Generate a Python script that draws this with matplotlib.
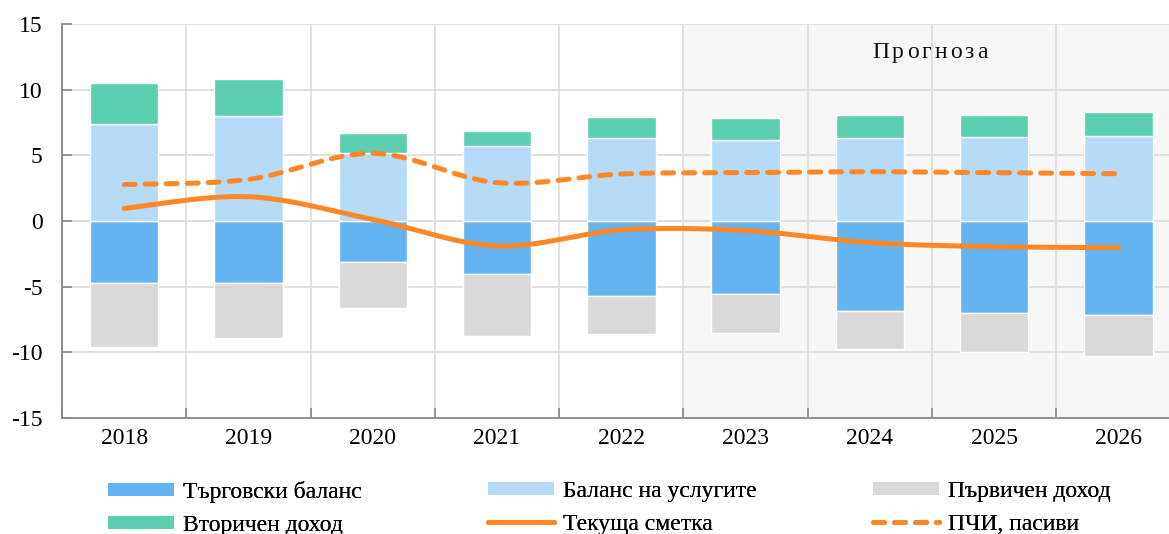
import numpy as np
import matplotlib
matplotlib.use("Agg")
import matplotlib.pyplot as plt
from matplotlib.patches import Patch
from matplotlib.lines import Line2D
from matplotlib.transforms import offset_copy

plt.rcParams["font.family"] = ["Liberation Serif", "DejaVu Serif"]

years = ["2018", "2019", "2020", "2021", "2022", "2023", "2024", "2025", "2026"]
trade_balance = [-4.74, -4.69, -3.12, -4.06, -5.73, -5.58, -6.87, -7.00, -7.13]
services_balance = [7.36, 7.97, 5.15, 5.73, 6.29, 6.16, 6.29, 6.37, 6.49]
primary_income = [-4.82, -4.24, -3.48, -4.67, -2.87, -2.97, -2.89, -3.00, -3.14]
secondary_income = [3.16, 2.83, 1.52, 1.14, 1.62, 1.70, 1.80, 1.70, 1.78]
current_account = [0.96, 1.85, 0.12, -1.90, -0.68, -0.73, -1.65, -1.95, -2.03]
fdi_liabilities = [2.77, 3.17, 5.15, 2.92, 3.58, 3.68, 3.75, 3.68, 3.60]
forecast_start = "2023"
forecast_label = "Прогноза"

labels = ["Търговски баланс", "Баланс на услугите", "Първичен доход",
          "Вторичен доход", "Текуща сметка", "ПЧИ, пасиви"]

c_trade = "#63b4f0"
c_serv = "#b5dbf8"
c_prim = "#d9d9d9"
c_sec = "#5ccfb0"
c_line = "#ff8726"
c_grid = "#dedede"


def smooth(xs, ys, n=40):
    """Cubic Bezier smoothing through the points (Catmull-Rom style)."""
    p = np.column_stack([xs, ys]).astype(float)
    ext = np.vstack([p[0], p, p[-1]])
    out = []
    t = np.linspace(0, 1, n)[:, None]
    for i in range(len(p) - 1):
        p0, p1, p2, p3 = ext[i], ext[i + 1], ext[i + 2], ext[i + 3]
        c1 = p1 + (p2 - p0) / 6.0
        c2 = p2 - (p3 - p1) / 6.0
        seg = ((1 - t) ** 3) * p1 + 3 * ((1 - t) ** 2) * t * c1 \
            + 3 * (1 - t) * t ** 2 * c2 + t ** 3 * p2
        out.append(seg if i == 0 else seg[1:])
    out = np.vstack(out)
    return out[:, 0], out[:, 1]


fig = plt.figure(figsize=(11.69, 5.34), dpi=100)
ax = fig.add_axes([62 / 1169, 116 / 534, 1 - 62 / 1169 + 0.01, 394 / 534])

x = np.arange(len(years))
fs = years.index(forecast_start)
ax.axvspan(fs - 0.5, len(years) + 1, color="#f7f7f7", zorder=0, lw=0)

w = 0.55
bar_kw = dict(width=w, edgecolor="white", linewidth=1.0, zorder=2)
ax.bar(x, trade_balance, color=c_trade, **bar_kw)
ax.bar(x, primary_income, bottom=trade_balance, color=c_prim, **bar_kw)
ax.bar(x, services_balance, color=c_serv, **bar_kw)
ax.bar(x, secondary_income, bottom=services_balance, color=c_sec, **bar_kw)

sx, sy = smooth(x, current_account)
ax.plot(sx, sy, color=c_line, lw=3.6, solid_capstyle="round", zorder=4)
fx, fy = smooth(x, fdi_liabilities)
ax.plot(fx, fy, color=c_line, lw=3.6, dashes=(2.2, 2.0),
        dash_capstyle="round", zorder=4)

ax.set_xlim(-0.5, 8.5)
ax.set_ylim(-15, 15)
ax.set_yticks(np.arange(-15, 16, 5))
ax.set_yticklabels([str(v) for v in range(-15, 16, 5)], fontsize=17)
ax.set_xticks(x)
ax.set_xticklabels(years, fontsize=17)
ax.set_xticks(np.arange(-0.5, 9.0, 1.0), minor=True)
ax.tick_params(axis="x", which="major", length=0, pad=7)
ax.tick_params(axis="x", which="minor", length=7, direction="in",
               color="#888888", width=1.2)
ax.tick_params(axis="y", length=7, direction="in", color="#888888",
               width=1.2, pad=14)

ax.grid(axis="y", color=c_grid, lw=1.3, zorder=1)
ax.grid(axis="x", which="minor", color=c_grid, lw=1.3, zorder=1)
ax.set_axisbelow(True)
for s in ["top", "right"]:
    ax.spines[s].set_visible(False)
for s in ["left", "bottom"]:
    ax.spines[s].set_color("#888888")
    ax.spines[s].set_linewidth(1.3)

# Letter-spaced forecast caption, laid out one glyph at a time
renderer = fig.canvas.get_renderer()
tracking = 3.0  # extra pixels between glyphs
cap_kw = dict(fontsize=17, va="center", ha="left", color="#111111")
widths = []
for ch in forecast_label:
    t = ax.text(0, 0, ch, **cap_kw)
    widths.append(t.get_window_extent(renderer).width)
    t.remove()
total = sum(widths) + tracking * (len(widths) - 1)
cx, cy = 6.48, 12.86
offset = -total / 2
for ch, wd in zip(forecast_label, widths):
    tr = offset_copy(ax.transData, fig=fig, x=offset * 72 / fig.dpi,
                     y=0, units="points")
    ax.text(cx, cy, ch, transform=tr, **cap_kw)
    offset += wd + tracking

handles = [
    Patch(facecolor=c_trade, edgecolor="none"),
    Patch(facecolor=c_serv, edgecolor="none"),
    Patch(facecolor=c_prim, edgecolor="none"),
    Patch(facecolor=c_sec, edgecolor="none"),
    Line2D([], [], color=c_line, lw=3.6, solid_capstyle="round"),
    Line2D([], [], color=c_line, lw=3.6, dashes=(2.2, 2.0),
           dash_capstyle="round"),
]
col_x = [108 / 1169, 488 / 1169, 873 / 1169]
for c in range(3):
    hs = [handles[c], handles[c + 3]]
    ls = [labels[c], labels[c + 3]]
    leg = fig.legend(hs, ls, loc="upper left",
                     bbox_to_anchor=(col_x[c], 1 - 481 / 534),
                     frameon=False, fontsize=17, handlelength=2.8,
                     handleheight=0.5, handletextpad=0.38,
                     labelspacing=0.5, borderaxespad=0, borderpad=0)
    fig.add_artist(leg)

fig.savefig("out.png", dpi=100)
